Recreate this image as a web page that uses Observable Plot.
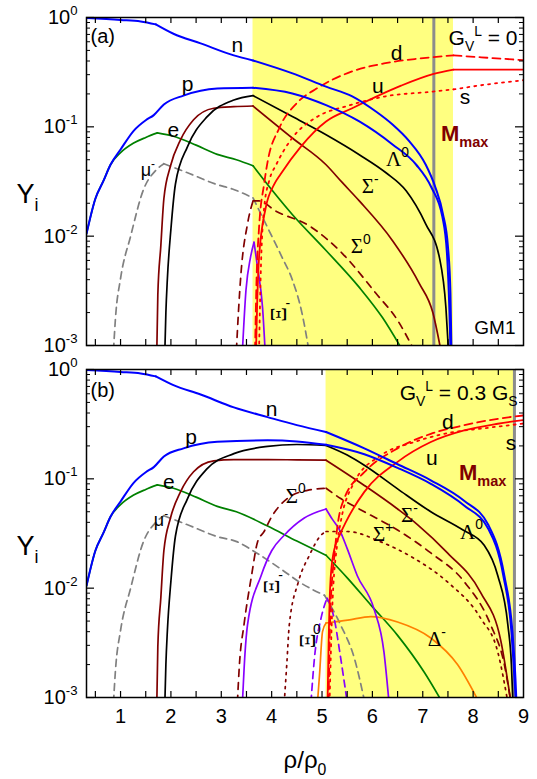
<!DOCTYPE html>
<html><head><meta charset="utf-8">
<script src="https://cdn.jsdelivr.net/npm/d3@7"></script>
<script src="https://cdn.jsdelivr.net/npm/@observablehq/plot@0.6"></script>
<style>
html,body{margin:0;padding:0;background:#fff;overflow:hidden}
svg{display:block;overflow:visible}
</style></head><body><div id="chart"></div>
<script>
// ---------- data: panel (a) G_V^L = 0 ----------
const a_n  = [[0.324,0.99],[1.0,0.95],[1.4,0.92],[1.7,0.865],[1.7,0.865],[2.05,0.71],[2.59,0.58],[3.25,0.45],[3.63,0.405],[3.63,0.405],[4.4,0.31],[5.08,0.233],[5.6,0.19],[6.07,0.138],[6.4,0.105],[6.73,0.074],[7.06,0.045],[7.25,0.028],[7.4,0.016],[7.5,0.008],[7.55,0.003],[7.57,0.0009]];
const a_p  = [[0.324,0.0105],[0.5,0.022],[0.66,0.032],[0.8,0.045],[1.0,0.062],[1.26,0.092],[1.5,0.115],[1.66,0.128],[1.86,0.16],[2.25,0.193],[2.92,0.224],[3.63,0.228],[3.63,0.228],[4.41,0.202],[5.08,0.158],[5.74,0.112],[6.4,0.069],[6.87,0.045],[7.17,0.028],[7.39,0.015],[7.48,0.007],[7.53,0.002],[7.55,0.0009]];
const a_e  = [[0.324,0.0105],[0.5,0.022],[0.66,0.032],[0.8,0.045],[1.0,0.058],[1.26,0.071],[1.5,0.08],[1.73,0.088],[1.73,0.088],[2.05,0.082],[2.5,0.068],[2.92,0.056],[3.3,0.05],[3.63,0.044],[3.63,0.044],[3.84,0.033],[4.41,0.0158],[5.08,0.0074],[5.74,0.0034],[6.2,0.0018],[6.6,0.0009]];
const a_mu = [[0.86,0.0009],[0.9,0.0018],[1.0,0.0041],[1.2,0.01],[1.46,0.027],[1.7,0.04],[1.86,0.046],[1.86,0.046],[2.33,0.038],[2.92,0.0296],[3.22,0.027],[3.63,0.0224],[3.63,0.0224],[3.95,0.0112],[4.2,0.0065],[4.41,0.004],[4.6,0.002],[4.74,0.0009]];
const a_L  = [[1.88,0.0009],[1.9,0.002],[1.93,0.0041],[2.0,0.0116],[2.09,0.03],[2.33,0.066],[2.72,0.124],[3.25,0.176],[3.63,0.193],[3.63,0.193],[4.41,0.124],[5.08,0.0846],[5.74,0.0556],[6.27,0.038],[6.67,0.026],[7.06,0.0129],[7.33,0.0064],[7.46,0.0022],[7.51,0.0009]];
const a_Sm = [[1.72,0.0009],[1.74,0.0029],[1.8,0.0082],[1.86,0.022],[1.99,0.0436],[2.19,0.076],[2.45,0.116],[2.85,0.148],[3.25,0.153],[3.63,0.155],[3.63,0.155],[4.41,0.079],[5.08,0.045],[5.4,0.031],[5.74,0.021],[6.4,0.0091],[6.93,0.0037],[7.2,0.002],[7.36,0.0009]];
const a_S0 = [[3.3,0.0009],[3.34,0.002],[3.39,0.0045],[3.52,0.0129],[3.63,0.021],[3.63,0.021],[3.75,0.021],[4.08,0.017],[4.75,0.0124],[5.41,0.0069],[6.07,0.003],[6.5,0.0017],[6.83,0.0009]];
const a_Xm = [[3.42,0.0009],[3.49,0.0032],[3.58,0.0064],[3.65,0.0088],[3.65,0.0088],[3.72,0.0052],[3.82,0.0022],[3.87,0.0009]];
const a_u  = [[3.69,0.0009],[3.71,0.0022],[3.75,0.0064],[3.88,0.018],[4.05,0.0297],[4.18,0.037],[4.58,0.066],[5.08,0.112],[5.6,0.148],[6.57,0.238],[7.2,0.303],[7.61,0.334],[7.61,0.334],[9,0.334]];
const a_d  = [[3.67,0.0009],[3.7,0.004],[3.75,0.012],[3.85,0.03],[3.92,0.048],[4.15,0.097],[4.5,0.165],[4.9,0.225],[5.57,0.318],[6.23,0.38],[6.9,0.42],[7.61,0.45],[7.61,0.45],[8.3,0.428],[9,0.407]];
const a_s  = [[3.75,0.0009],[3.78,0.004],[3.85,0.018],[3.95,0.032],[4.09,0.045],[4.38,0.076],[4.91,0.124],[5.5,0.155],[6.23,0.189],[7.2,0.21],[7.61,0.22],[7.61,0.22],[8.3,0.245],[9,0.267]];
const a_yellow = [[3.63, 7.61]];
const a_mmax = [7.22];

// ---------- data: panel (b) G_V^L = 0.3 G_S ----------
const b_n  = [[0.324,0.99],[1.0,0.95],[1.4,0.92],[1.7,0.865],[1.7,0.865],[2.05,0.72],[2.59,0.59],[3.25,0.45],[3.92,0.367],[4.5,0.31],[5.08,0.268],[5.08,0.268],[5.84,0.19],[6.5,0.136],[7.16,0.097],[7.82,0.063],[8.3,0.038],[8.62,0.013],[8.78,0.004],[8.84,0.0015],[8.86,0.0009]];
const b_p  = [[0.324,0.0105],[0.5,0.022],[0.66,0.032],[0.8,0.045],[1.0,0.062],[1.26,0.092],[1.5,0.115],[1.66,0.128],[1.86,0.16],[2.25,0.19],[2.92,0.218],[3.92,0.225],[4.5,0.22],[5.08,0.205],[5.08,0.205],[5.84,0.168],[6.5,0.126],[7.16,0.09],[7.82,0.057],[8.3,0.035],[8.6,0.013],[8.76,0.004],[8.82,0.0015],[8.85,0.0009]];
const b_e  = [[0.324,0.0105],[0.5,0.022],[0.66,0.032],[0.8,0.045],[1.0,0.058],[1.26,0.071],[1.5,0.08],[1.73,0.088],[1.73,0.088],[2.05,0.082],[2.5,0.068],[2.92,0.056],[3.3,0.05],[3.92,0.037],[4.5,0.027],[5.08,0.02],[5.08,0.02],[5.51,0.0123],[5.97,0.007],[6.5,0.0037],[7.03,0.0017],[7.39,0.0009]];
const b_mu = [[0.86,0.0009],[0.9,0.0018],[1.0,0.0041],[1.2,0.01],[1.46,0.027],[1.7,0.04],[1.86,0.046],[1.86,0.046],[2.33,0.038],[2.92,0.0296],[3.32,0.0265],[3.7,0.021],[4.18,0.015],[4.6,0.011],[5.05,0.0086],[5.05,0.0086],[5.37,0.0046],[5.64,0.0023],[5.85,0.0009]];
const b_L  = [[1.88,0.0009],[1.9,0.002],[1.93,0.0041],[2.0,0.0116],[2.09,0.03],[2.33,0.066],[2.72,0.124],[3.25,0.17],[3.92,0.198],[4.5,0.206],[5.08,0.202],[5.08,0.202],[5.5,0.165],[5.84,0.133],[6.5,0.081],[7.16,0.05],[7.8,0.034],[8.22,0.0247],[8.49,0.013],[8.69,0.0046],[8.76,0.002],[8.79,0.0009]];
const b_Sm = [[1.72,0.0009],[1.74,0.0029],[1.8,0.0082],[1.86,0.022],[1.99,0.0436],[2.19,0.076],[2.45,0.116],[2.85,0.146],[3.25,0.15],[3.92,0.15],[4.5,0.149],[5.08,0.148],[5.08,0.148],[5.84,0.087],[6.5,0.053],[6.9,0.038],[7.49,0.021],[8.15,0.0091],[8.55,0.0033],[8.75,0.0009]];
const b_S0 = [[3.32,0.0009],[3.36,0.002],[3.45,0.0046],[3.6,0.013],[3.72,0.0265],[3.85,0.033],[4.0,0.045],[4.31,0.066],[4.71,0.0785],[5.08,0.082],[5.08,0.082],[5.37,0.066],[5.84,0.05],[6.5,0.034],[7.16,0.021],[7.82,0.0115],[8.35,0.0046],[8.62,0.002],[8.75,0.0009]];
const b_Sp = [[4.25,0.0009],[4.3,0.002],[4.35,0.0046],[4.53,0.0114],[4.75,0.02],[4.98,0.0305],[5.08,0.033],[5.08,0.033],[5.5,0.033],[6.17,0.0265],[6.83,0.0187],[7.49,0.0114],[8.15,0.0053],[8.49,0.0026],[8.69,0.0009]];
const b_Xm = [[3.42,0.0009],[3.47,0.0025],[3.52,0.0046],[3.79,0.013],[4.0,0.022],[4.25,0.0305],[4.64,0.0436],[5.08,0.053],[5.08,0.053],[5.2,0.043],[5.35,0.034],[5.5,0.023],[5.7,0.013],[6.03,0.0065],[6.23,0.0026],[6.33,0.0009]];
const b_X0 = [[4.78,0.0009],[4.85,0.0023],[4.98,0.0053],[5.1,0.0081],[5.1,0.0081],[5.24,0.0053],[5.37,0.0023],[5.5,0.0009]];
const b_u  = [[5.11,0.0009],[5.13,0.003],[5.16,0.01],[5.22,0.02],[5.37,0.032],[5.47,0.04],[5.84,0.076],[6.5,0.143],[7.16,0.217],[7.82,0.277],[8.49,0.319],[9,0.345]];
const b_d  = [[5.13,0.0009],[5.16,0.005],[5.2,0.012],[5.24,0.0187],[5.3,0.035],[5.44,0.066],[5.84,0.115],[6.5,0.19],[7.16,0.258],[7.82,0.309],[8.49,0.354],[9,0.38]];
const b_s  = [[5.15,0.0009],[5.2,0.006],[5.3,0.025],[5.37,0.04],[5.64,0.093],[6.17,0.164],[6.83,0.217],[7.49,0.262],[8.22,0.29],[9,0.32]];
const b_D  = [[4.91,0.0009],[4.95,0.0016],[5.01,0.004],[5.08,0.0048],[5.08,0.0048],[5.51,0.0051],[5.97,0.0055],[6.5,0.0049],[7.16,0.0035],[7.69,0.002],[8.12,0.0009]];
const b_yellow = [[5.08, 8.82]];
const b_mmax = [8.82];

// ---------- ticks ----------
const yMajor = [1e-3, 1e-2, 1e-1, 1];
const yMajorLabels = ["10^{-3}", "10^{-2}", "10^{-1}", "10^{0}"];
const yMinor = d3.range(-3, 0).flatMap(k => d3.range(2, 10).map(m => m * Math.pow(10, k)));
const xTicks = d3.range(0.5, 9, 0.5);
const xTickLabels = [1, 2, 3, 4, 5, 6, 7, 8, 9];

// ---------- labels ----------
const aLatin = [{x:3.32,y:0.556,t:"n"},{x:2.33,y:0.243,t:"p"},{x:2.05,y:0.094,t:"e"},{x:6.48,y:0.471,t:"d"},{x:6.11,y:0.236,t:"u"},{x:7.84,y:0.185,t:"s"}];
const bLatin = [{x:4.0,y:0.431,t:"n"},{x:2.4,y:0.242,t:"p"},{x:1.96,y:0.094,t:"e"},{x:7.5,y:0.332,t:"d"},{x:7.18,y:0.155,t:"u"},{x:8.75,y:0.213,t:"s"}];
const aMu = [{x:1.40,y:0.040,t:"μ^{-}"}];
const bMu = [{x:1.66,y:0.0418,t:"μ^{-}"}];
const aGreek = [{x:6.27,y:0.05,t:"Λ^{0}"},{x:5.79,y:0.0285,t:"Σ^{-}"},{x:5.57,y:0.008,t:"Σ^{0}"}];
const bGreek = [{x:4.28,y:0.07,t:"Σ^{0}"},{x:6.57,y:0.0464,t:"Σ^{-}"},{x:6.01,y:0.0311,t:"Σ^{+}"},{x:7.74,y:0.0325,t:"Λ^{0}"},{x:7.1,y:0.0034,t:"Δ^{-}"}];
const aXi = [{x:4.14,y:0.00193,sup:"-"}];
const bXi = [{x:4.0,y:0.0103,sup:"-"},{x:4.72,y:0.0033,sup:"0"}];
const aMmax = [{x:7.36,y:0.0855}];
const bMmax = [{x:7.72,y:0.1135}];

// ---------- styles ----------
const BLUE="#0000ff", GREEN="#008000", GRAY="#808080", MAROON="#800000", RED="#ff0000", PURPLE="#8800ff", ORANGE="#ff8000", BLACK="#000000";
const SANS = "Liberation Sans, Arial, Helvetica, sans-serif";
const SERIF = "Liberation Serif, Times New Roman, serif";
const seriesA = [
  [a_e, GREEN, null, 1.7], [a_mu, GRAY, "7,5", 1.7], [a_S0, MAROON, "7,6", 1.7], [a_Xm, PURPLE, null, 1.7],
  [a_Sm, MAROON, null, 1.7], [a_L, BLACK, null, 1.7], [a_s, RED, "2,5", 1.8], [a_d, RED, "8,5", 1.8], [a_u, RED, null, 1.8],
  [a_p, BLUE, null, 2], [a_n, BLUE, null, 2]
];
const seriesB = [
  [b_e, GREEN, null, 1.7], [b_mu, GRAY, "7,5", 1.7], [b_D, ORANGE, null, 1.7], [b_X0, PURPLE, "7,5", 1.7], [b_Xm, PURPLE, null, 1.7],
  [b_Sp, MAROON, "2,5", 1.7], [b_S0, MAROON, "7,6", 1.7], [b_Sm, MAROON, null, 1.7], [b_L, BLACK, null, 1.7],
  [b_s, RED, "2,5", 1.8], [b_d, RED, "8,5", 1.8], [b_u, RED, null, 1.8], [b_p, BLUE, null, 2], [b_n, BLUE, null, 2]
];

// split a point list at duplicated points (kinks) into segments
function segs(pts, id) {
  let seg = 0;
  return pts.map((p, i) => {
    if (i > 0 && p[0] === pts[i-1][0] && p[1] === pts[i-1][1]) seg++;
    return {x: p[0], y: p[1], k: id + "_" + seg};
  });
}

const W = 537, ML = 86, MR = 14, PH = 328, PW = W - ML - MR;

function panel(o) {
  const marks = [
    Plot.rect(o.yellow, {x1: d => d[0], x2: d => d[1], fill: "#ffff80"}),
    Plot.ruleX(o.mmax, {x: d => d, stroke: "#8c8c8c", strokeWidth: 3}),
  ];
  o.series.forEach((s, i) => {
    marks.push(Plot.line(segs(s[0], i), {x: "x", y: "y", z: "k", stroke: s[1], strokeWidth: s[3],
      strokeDasharray: s[2] || undefined, curve: "monotone-x", clip: true}));
  });
  // ticks (inside, all four sides)
  marks.push(
    Plot.ruleX(xTicks, {x: d => d, insetTop: PH - 6, strokeWidth: 1.2}),
    Plot.ruleX(xTicks, {x: d => d, insetBottom: PH - 6, strokeWidth: 1.2}),
    Plot.ruleY(yMajor, {y: d => d, insetRight: PW - 8, strokeWidth: 1.2}),
    Plot.ruleY(yMajor, {y: d => d, insetLeft: PW - 8, strokeWidth: 1.2}),
    Plot.ruleY(yMinor, {y: d => d, insetRight: PW - 4, strokeWidth: 1}),
    Plot.ruleY(yMinor, {y: d => d, insetLeft: PW - 4, strokeWidth: 1}),
    Plot.frame({stroke: "black", strokeWidth: 1.5})
  );
  // y tick labels
  marks.push(Plot.text(yMajor, {y: d => d, text: (d, i) => yMajorLabels[i], frameAnchor: "left", textAnchor: "end",
    lineAnchor: "middle", dx: -9, fontSize: 20, fontFamily: SANS, fill: "black"}));
  // y axis title
  marks.push(Plot.text(["Y_{i}"], {frameAnchor: "left", textAnchor: "start", lineAnchor: "middle", dx: -70, dy: 13,
    fontSize: 27, fontFamily: SANS, fill: "black"}));
  // curve labels
  marks.push(Plot.text(o.latin, {x: "x", y: "y", text: "t", fontSize: 21, fontFamily: SANS, fill: "black", textAnchor: "middle", lineAnchor: "middle"}));
  marks.push(Plot.text(o.mu, {x: "x", y: "y", text: "t", fontSize: 18, fontFamily: SANS, fill: "black", textAnchor: "start", lineAnchor: "middle"}));
  marks.push(Plot.text(o.greek, {x: "x", y: "y", text: "t", fontSize: 21, fontFamily: SERIF, fill: "black", textAnchor: "start", lineAnchor: "middle"}));
  marks.push(Plot.text(o.xi, {x: "x", y: "y", text: () => "Ξ", rotate: -90, fontSize: 23, fontFamily: SERIF, fill: "black", textAnchor: "middle", lineAnchor: "middle"}));
  marks.push(Plot.text(o.xi, {x: "x", y: "y", text: "sup", dx: 9, dy: -11, fontSize: 14, fontFamily: SANS, fill: "black", textAnchor: "middle", lineAnchor: "middle"}));
  marks.push(Plot.text(o.mmaxLabel, {x: "x", y: "y", text: () => "M_{max}", fontSize: 22, fontWeight: "bold", fontFamily: SANS, fill: MAROON, textAnchor: "start", lineAnchor: "middle"}));
  // frame-anchored annotations
  marks.push(Plot.text([o.tag], {frameAnchor: "top-left", textAnchor: "start", lineAnchor: "middle", dx: 4, dy: o.tagDy, fontSize: 20, fontFamily: SANS, fill: "black"}));
  marks.push(Plot.text([o.gv], {frameAnchor: "top-right", textAnchor: "end", lineAnchor: "middle", dx: -6, dy: o.gvDy, fontSize: 21, fontFamily: SANS, fill: "black"}));
  if (o.model) marks.push(Plot.text([o.model], {frameAnchor: "bottom-right", textAnchor: "end", lineAnchor: "middle", dx: -8, dy: -18, fontSize: 19, fontFamily: SANS, fill: "black"}));
  if (o.xlabels) {
    marks.push(Plot.text(xTickLabels, {x: d => d, text: d => String(d), frameAnchor: "bottom", textAnchor: "middle", lineAnchor: "middle", dy: 19, fontSize: 20, fontFamily: SANS, fill: "black"}));
    marks.push(Plot.text(["ρ/ρ_{0}"], {frameAnchor: "bottom", textAnchor: "middle", lineAnchor: "middle", dy: 63, fontSize: 24, fontFamily: SANS, fill: "black"}));
  }
  const svg = Plot.plot({
    width: W, height: o.height, marginLeft: ML, marginRight: MR, marginTop: o.mt, marginBottom: o.mb,
    style: {fontFamily: SANS, fontSize: "20px", background: "transparent", overflow: "visible"},
    x: {domain: [0.324, 9], axis: null},
    y: {type: "log", domain: [1e-3, 1], axis: null},
    marks
  });
  richify(svg);
  return svg;
}

// turn ^{..} and _{..} into raised / lowered tspans
function richify(svg) {
  d3.select(svg).selectAll("text").each(function() {
    const t = this.textContent;
    if (!/[\^_]\{/.test(t)) return;
    const parts = []; const re = /([\^_])\{([^}]*)\}/g; let last = 0, m;
    while ((m = re.exec(t))) {
      if (m.index > last) parts.push({s: t.slice(last, m.index), k: ""});
      parts.push({s: m[2], k: m[1]});
      last = re.lastIndex;
    }
    if (last < t.length) parts.push({s: t.slice(last), k: ""});
    const sel = d3.select(this); sel.text(null);
    let off = 0;
    for (const p of parts) {
      const scale = p.k ? 0.66 : 1;
      const target = p.k === "^" ? -0.45 : p.k === "_" ? 0.28 : 0;
      const ts = sel.append("tspan").text(p.s);
      if (p.k) ts.attr("font-size", (scale * 100) + "%").attr("font-family", SANS);
      const d = target - off;
      if (d !== 0) ts.attr("dy", (d / scale).toFixed(3) + "em");
      off = target;
    }
  });
}

const root = document.getElementById("chart");
root.appendChild(panel({
  height: 355, mt: 17, mb: 10, yellow: a_yellow, mmax: a_mmax, series: seriesA,
  latin: aLatin, mu: aMu, greek: aGreek, xi: aXi, mmaxLabel: aMmax,
  tag: "(a)", tagDy: 19, gv: "G_{V}^{L} = 0", gvDy: 21, model: "GM1", xlabels: false
}));
root.appendChild(panel({
  height: 424, mt: 14, mb: 82, yellow: b_yellow, mmax: b_mmax, series: seriesB,
  latin: bLatin, mu: bMu, greek: bGreek, xi: bXi, mmaxLabel: bMmax,
  tag: "(b)", tagDy: 21, gv: "G_{V}^{L} = 0.3 G_{S}", gvDy: 24, model: null, xlabels: true
}));
</script></body></html>
